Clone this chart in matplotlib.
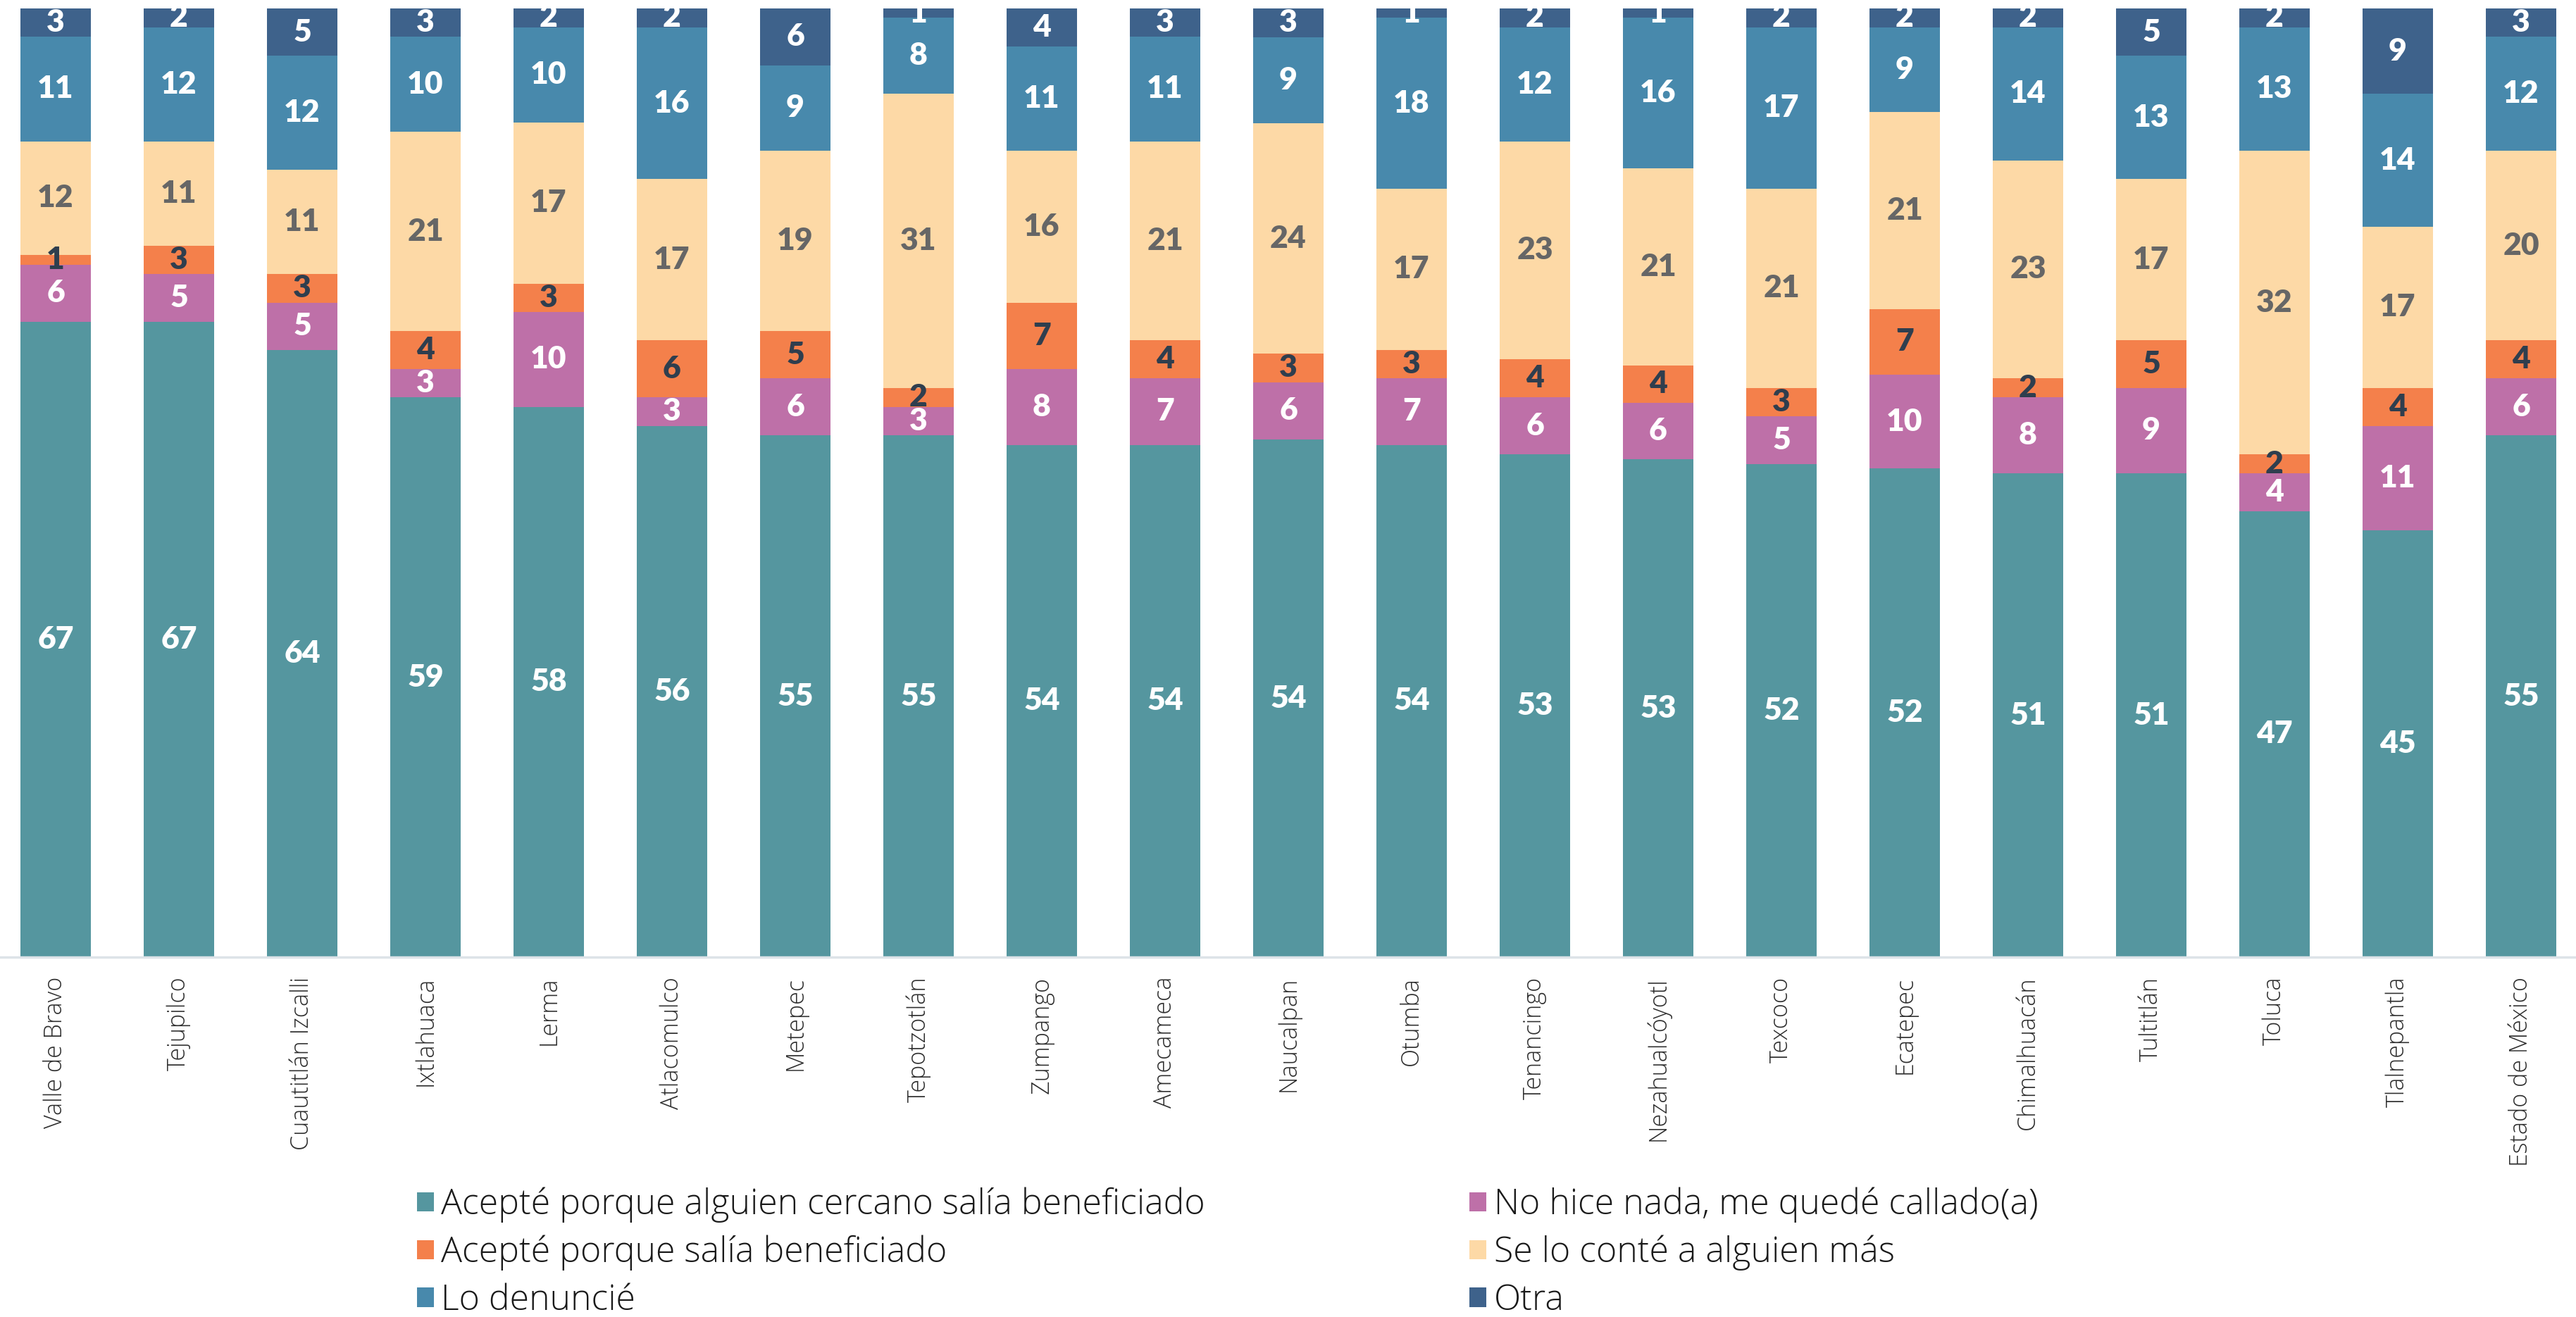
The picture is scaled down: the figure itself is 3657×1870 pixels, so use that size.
import numpy as np
import matplotlib.pyplot as plt

municipios = [
    'Valle de Bravo', 'Tejupilco', 'Cuautitlán Izcalli', 'Ixtlahuaca', 'Lerma',
    'Atlacomulco', 'Metepec', 'Tepotzotlán', 'Zumpango', 'Amecameca', 'Naucalpan',
    'Otumba', 'Tenancingo', 'Nezahualcóyotl', 'Texcoco', 'Ecatepec', 'Chimalhuacán',
    'Tultitlán', 'Toluca', 'Tlalnepantla', 'Estado de México'
]

cercano = [67, 67, 64, 59, 58, 56, 55, 55, 54, 54, 54, 54, 53, 53, 52, 52, 51, 51, 47, 45, 55]
callado = [6, 5, 5, 3, 10, 3, 6, 3, 8, 7, 6, 7, 6, 6, 5, 10, 8, 9, 4, 11, 6]
beneficiado = [1, 3, 3, 4, 3, 6, 5, 2, 7, 4, 3, 3, 4, 4, 3, 7, 2, 5, 2, 4, 4]
conte = [12, 11, 11, 21, 17, 17, 19, 31, 16, 21, 24, 17, 23, 21, 21, 21, 23, 17, 32, 17, 20]
denuncie = [11, 12, 12, 10, 10, 16, 9, 8, 11, 11, 9, 18, 12, 16, 17, 9, 14, 13, 13, 14, 12]
otra = [3, 2, 5, 3, 2, 2, 6, 1, 4, 3, 3, 1, 2, 1, 2, 2, 2, 5, 2, 9, 3]

series = [
    ('Acepté porque alguien cercano salía beneficiado', cercano, '#55969f', 'white'),
    ('No hice nada, me quedé callado(a)', callado, '#be70a8', 'white'),
    ('Acepté porque salía beneficiado', beneficiado, '#f4804b', '#2f3e4e'),
    ('Se lo conté a alguien más', conte, '#fdd9a6', '#666666'),
    ('Lo denuncié', denuncie, '#4889ac', 'white'),
    ('Otra', otra, '#3e628b', 'white'),
]

W, H = 3657, 1870
fig = plt.figure(figsize=(W / 100, H / 100), dpi=100)
ax = fig.add_axes([0, 1 - 1359 / H, 1, (1359 - 12) / H])

x = np.arange(len(municipios))
vals = np.array([s[1] for s in series], dtype=float)
totals = vals.sum(axis=0)
shares = vals / totals * 100  # 100% stacked

bottom = np.zeros(len(municipios))
bars = {}
for (name, raw, color, tcolor), share in zip(series, shares):
    bars[name] = ax.bar(x, share, 0.57, bottom=bottom, color=color, label=name, linewidth=0)
    for xi, b, h, v in zip(x, bottom, share, raw):
        ax.text(xi, b + h / 2, str(v), ha='center', va='center', color=tcolor,
                fontsize=32, fontweight='heavy', family='Lato', clip_on=True)
    bottom += share

ax.set_ylim(0, 100)
ax.set_xlim(-79 / 175, (W - 79) / 175)
for s in ['top', 'left', 'right']:
    ax.spines[s].set_visible(False)
ax.spines['bottom'].set_color('#dde3e8')
ax.spines['bottom'].set_linewidth(2.5)
ax.set_yticks([])
ax.set_xticks(x)
ax.set_xticklabels(municipios, rotation=90, fontsize=24.5, family='Open Sans',
                   fontweight='light', color='#2e2e2e')
ax.tick_params(axis='x', length=0, pad=20)

order = ['Acepté porque alguien cercano salía beneficiado', 'Acepté porque salía beneficiado',
         'Lo denuncié', 'No hice nada, me quedé callado(a)', 'Se lo conté a alguien más', 'Otra']
leg = fig.legend([bars[n] for n in order], order, ncol=2, loc='upper left',
                 bbox_to_anchor=(592 / W, 1 - 1686 / H), frameon=False,
                 prop={'family': 'Open Sans', 'weight': 'light', 'size': 36},
                 handlelength=0.47, handleheight=0.47, handletextpad=0.22,
                 labelspacing=0.35, columnspacing=7.5, borderaxespad=0, borderpad=0)
for t in leg.get_texts():
    t.set_color('#1a1a1a')

fig.savefig('out.png', dpi=100)
